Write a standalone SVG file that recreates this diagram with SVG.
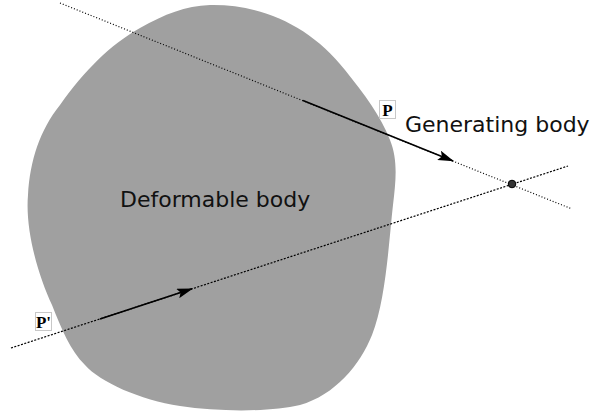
<svg xmlns="http://www.w3.org/2000/svg" width="593" height="416" viewBox="0 0 593 416">
  <style>
    .lbl { font-family: "DejaVu Sans", "Liberation Sans", sans-serif; font-size: 22px; fill: #111; }
    .pt { font-family: "Liberation Serif", "DejaVu Serif", serif; font-size: 17px; font-weight: bold; fill: #000; }
    .ptbox { fill: #fff; stroke: #c8c8c8; stroke-width: 1; }
    .dot { fill: none; stroke: #000; stroke-width: 1.2; stroke-dasharray: 1 2; }
    .dot2 { fill: none; stroke: #000; stroke-width: 1.2; stroke-dasharray: 2 1.5; }
    .solid { fill: none; stroke: #000; stroke-width: 1.6; }
  </style>
  <defs>
    <marker id="arr" viewBox="0 0 16 10" refX="15" refY="5" markerWidth="16" markerHeight="10" markerUnits="userSpaceOnUse" orient="auto">
      <path d="M0,0 L16,5 L0,10 L3,5 Z" fill="#000"/>
    </marker>
  </defs>
  <g id="deformable-body">
    <path d="M210,5 C260,4 310,25 345,70 C365,95 380,115 390,140 C398,160 396,180 393,205 C389,240 386,300 372,335 C360,365 335,395 300,405 C270,412 220,412 180,406 C140,400 100,382 85,365 C70,350 62,330 52,305 C38,275 25,230 28,195 C30,160 40,130 60,105 C85,70 110,45 140,28 C165,14 185,6 210,5 Z" fill="#a0a0a0"/>
    <text class="lbl" x="120" y="207">Deformable body</text>
  </g>
  <g id="generating-body">
    <text class="lbl" x="405" y="132">Generating body</text>
  </g>
  <g id="connectors">
    <line class="dot" x1="60" y1="3" x2="572" y2="209"/>
    <line class="dot2" x1="11" y1="348" x2="568" y2="166"/>
    <line class="solid" x1="303" y1="100.5" x2="453" y2="161" marker-end="url(#arr)"/>
    <line class="solid" x1="100" y1="318.9" x2="192" y2="288.8" marker-end="url(#arr)"/>
  </g>
  <g id="intersection">
    <circle cx="512" cy="184" r="3.8" fill="#333" stroke="#000" stroke-width="1"/>
  </g>
  <g id="P">
    <rect class="ptbox" x="379.5" y="100.5" width="16" height="18"/>
    <text class="pt" x="387.5" y="115.5" text-anchor="middle">P</text>
  </g>
  <g id="P-prime">
    <rect class="ptbox" x="35.5" y="312.5" width="16" height="18"/>
    <text class="pt" x="43.5" y="327.5" text-anchor="middle">P'</text>
  </g>
</svg>
